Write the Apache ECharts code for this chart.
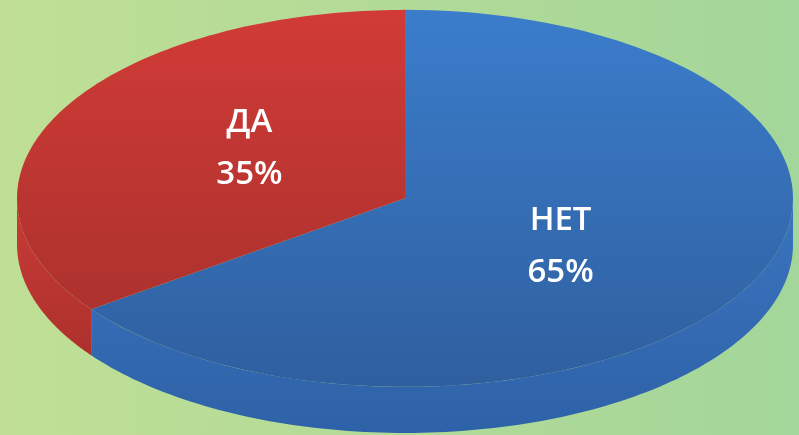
<!DOCTYPE html>
<html>
<head>
<meta charset="utf-8">
<script src="https://cdn.jsdelivr.net/npm/echarts@6/dist/echarts.min.js"></script>
<style>
html,body{margin:0;padding:0;}
#chart{width:799px;height:435px;}
</style>
</head>
<body>
<div id="chart"></div>
<script>
// Data (drawn clockwise from 12 o'clock)
var categories = ['НЕТ', 'ДА'];
var values = [65, 35];
var topColors = [['#3b7dcb', '#2f5f9f'], ['#d13b37', '#a42f2b']];
var sideColors = [['#3a74bf', '#2e62a8'], ['#c93c37', '#ad302c']];

var chart = echarts.init(document.getElementById('chart'));

var total = values.reduce(function (a, b) { return a + b; }, 0);

function geom(api) {
  var w = api.getWidth(), h = api.getHeight();
  return { cx: w * 0.5069, cy: h * 0.456, rx: w * 0.4856, ry: h * 0.4333, t: h * 0.106 };
}
function pt(g, th, dy) {
  return [g.cx + g.rx * Math.sin(th), g.cy - g.ry * Math.cos(th) + (dy || 0)];
}

function renderItem(params, api) {
  var idx = params.dataIndex;
  var g = geom(api);
  var before = 0;
  for (var i = 0; i < idx; i++) before += values[i];
  var a1 = before / total * Math.PI * 2;
  var a2 = (before + values[idx]) / total * Math.PI * 2;
  var children = [];
  var N = 120;
  // side wall: visible part where angle in [PI/2, 3PI/2]
  var s1 = Math.max(a1, Math.PI / 2), s2 = Math.min(a2, Math.PI * 1.5);
  if (s2 > s1) {
    var sp = [];
    for (var k = 0; k <= N; k++) sp.push(pt(g, s1 + (s2 - s1) * k / N, 0));
    for (var k2 = N; k2 >= 0; k2--) sp.push(pt(g, s1 + (s2 - s1) * k2 / N, g.t));
    children.push({
      type: 'polygon', shape: { points: sp },
      style: { fill: { type: 'linear', x: 0, y: 0, x2: 0, y2: 1, global: false,
        colorStops: [{ offset: 0, color: sideColors[idx][0] }, { offset: 1, color: sideColors[idx][1] }] } }
    });
  }
  // top face
  var tp = [[g.cx, g.cy]];
  for (var j = 0; j <= N; j++) tp.push(pt(g, a1 + (a2 - a1) * j / N, 0));
  children.push({
    type: 'polygon', shape: { points: tp },
    style: { fill: { type: 'linear', x: 0, y: g.cy - g.ry, x2: 0, y2: g.cy + g.ry, global: true,
      colorStops: [{ offset: 0, color: topColors[idx][0] }, { offset: 1, color: topColors[idx][1] }] } }
  });
  // label
  var mid = (a1 + a2) / 2;
  var lx = g.cx + g.rx * 0.45 * Math.sin(mid);
  var ly = g.cy - g.ry * 0.57 * Math.cos(mid);
  children.push({
    type: 'text', z2: 10,
    style: {
      x: lx, y: ly - 1, text: categories[idx] + '\n' + Math.round(values[idx] / total * 100) + '%',
      fill: '#ffffff', font: '600 33px "Open Sans", sans-serif', lineHeight: 52,
      align: 'center', verticalAlign: 'middle'
    }
  });
  return { type: 'group', children: children };
}

chart.setOption({
  backgroundColor: { type: 'linear', x: 0, y: 0, x2: 1, y2: 0,
    colorStops: [{ offset: 0, color: '#c0df95' }, { offset: 1, color: '#a3d69a' }] },
  animation: false,
  series: [{
    type: 'custom',
    coordinateSystem: 'none',
    renderItem: renderItem,
    data: values.map(function (v, i) { return { name: categories[i], value: v }; })
  }]
});
</script>
</body>
</html>
